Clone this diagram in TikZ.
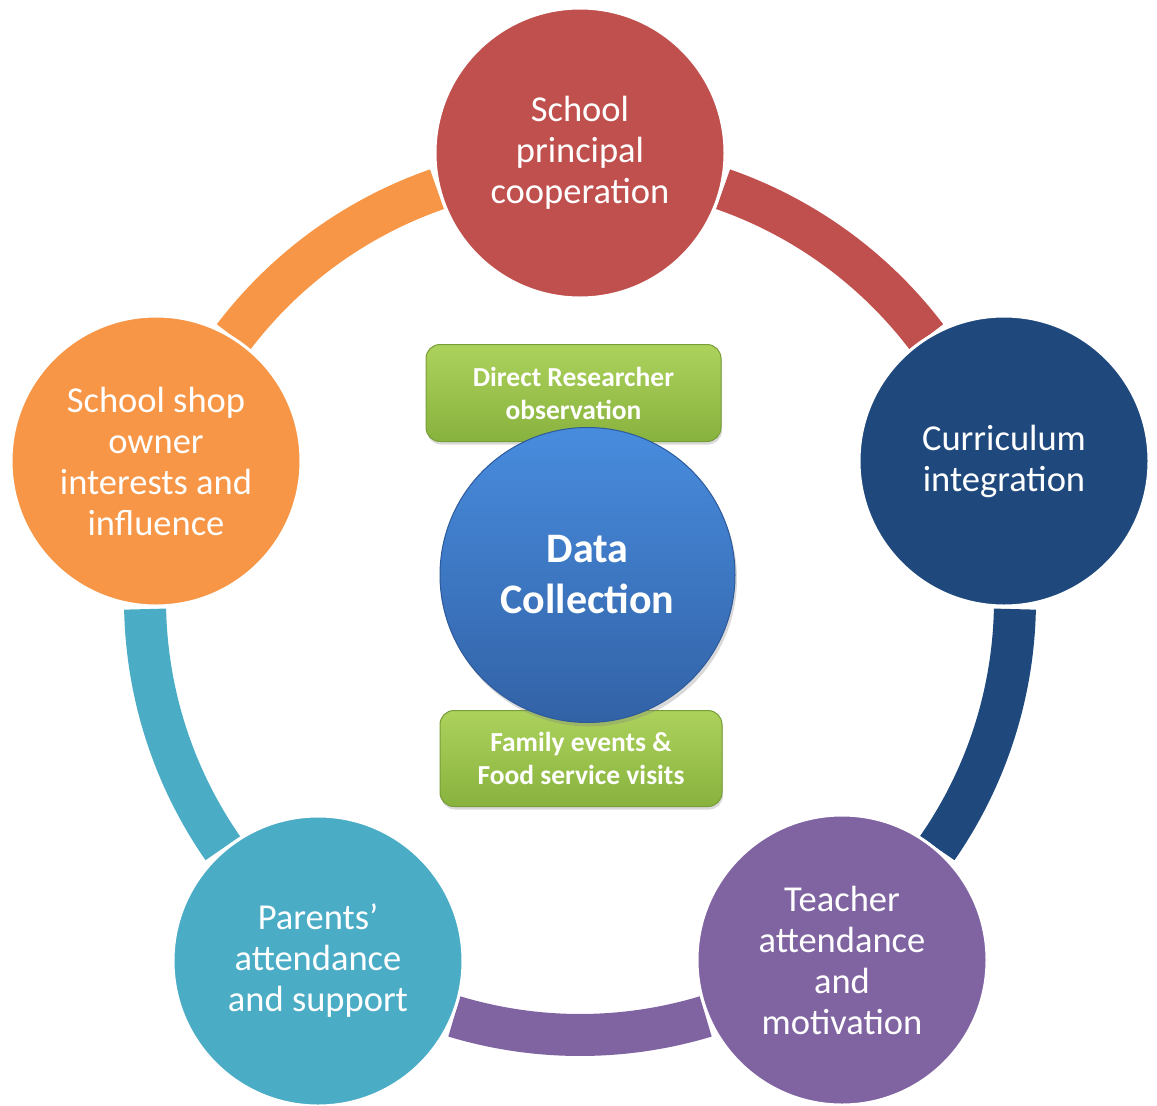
\documentclass[tikz,border=0pt]{standalone}
\usepackage{fontspec}
\setmainfont{Carlito}
\usetikzlibrary{shadows}
\definecolor{cRed}{HTML}{C0504D}
\definecolor{cNavy}{HTML}{1F497D}
\definecolor{cPurple}{HTML}{8064A2}
\definecolor{cTeal}{HTML}{4BACC6}
\definecolor{cOrange}{HTML}{F79646}
\definecolor{gTop}{RGB}{172,210,92}
\definecolor{gBot}{RGB}{136,178,62}
\definecolor{gEdge}{RGB}{120,158,55}
\definecolor{bTop}{RGB}{72,140,222}
\definecolor{bBot}{RGB}{50,98,166}
\definecolor{bEdge}{RGB}{45,90,155}
\begin{document}
\begin{tikzpicture}[x=1pt,y=-1pt,
  ring/.style={line width=42pt},
  outer/.style={circle, minimum size=290pt, inner sep=0pt, draw=white, line width=3pt,
    text=white, align=center, font=\fontsize{36.5}{41}\selectfont},
  gbox/.style={rounded corners=14pt, top color=gTop, bottom color=gBot, draw=gEdge,
    line width=1pt, text=white, align=center, inner sep=0pt,
    font=\bfseries\fontsize{27.5}{33}\selectfont,
    drop shadow={opacity=0.3, shadow xshift=1pt, shadow yshift=-3pt}},
  hub/.style={circle, minimum size=295pt, inner sep=0pt, top color=bTop, bottom color=bBot,
    draw=bEdge, line width=1pt, text=white, align=center,
    font=\bfseries\fontsize{42}{51}\selectfont,
    drop shadow={opacity=0.3, shadow xshift=2pt, shadow yshift=-4pt}}
]
\useasboundingbox (0,0) rectangle (1157,1106);
\coordinate (ctr) at (580,600);
% ring segments
\draw[ring, cRed]    ([shift={(70.8:435pt)}]ctr)   arc[start angle=70.8,   end angle=37.2,   radius=435pt];
\draw[ring, cNavy]   ([shift={(-1.2:435pt)}]ctr)   arc[start angle=-1.2,   end angle=-34.8,  radius=435pt];
\draw[ring, cPurple] ([shift={(-73.2:435pt)}]ctr)  arc[start angle=-73.2,  end angle=-106.8, radius=435pt];
\draw[ring, cTeal]   ([shift={(-145.2:435pt)}]ctr) arc[start angle=-145.2, end angle=-178.8, radius=435pt];
\draw[ring, cOrange] ([shift={(142.8:435pt)}]ctr)  arc[start angle=142.8,  end angle=109.2,  radius=435pt];
% outer circles
\node[outer, fill=cRed]    (principal) at (580,153)  {School\\principal\\cooperation};
\node[outer, fill=cNavy]   (curric)    at (1004,461) {Curriculum\\integration};
\node[outer, fill=cPurple] (teacher)   at (842,960)  {Teacher\\attendance\\and\\motivation};
\node[outer, fill=cTeal]   (parents)   at (318,961)  {Parents’\\attendance\\and support};
\node[outer, fill=cOrange] (shop)      at (156,461)  {School shop\\owner\\interests and\\influence};
% green boxes
\node[gbox, minimum width=295pt, minimum height=97pt] (obs) at (573.5,393) {Direct Researcher\\observation};
\node[gbox, minimum width=282pt, minimum height=96pt] (fam) at (581,758.5) {Family events \&\\Food service visits};
% hub
\node[hub] (data) at (587.5,575) {Data\\Collection};
\end{tikzpicture}
\end{document}
